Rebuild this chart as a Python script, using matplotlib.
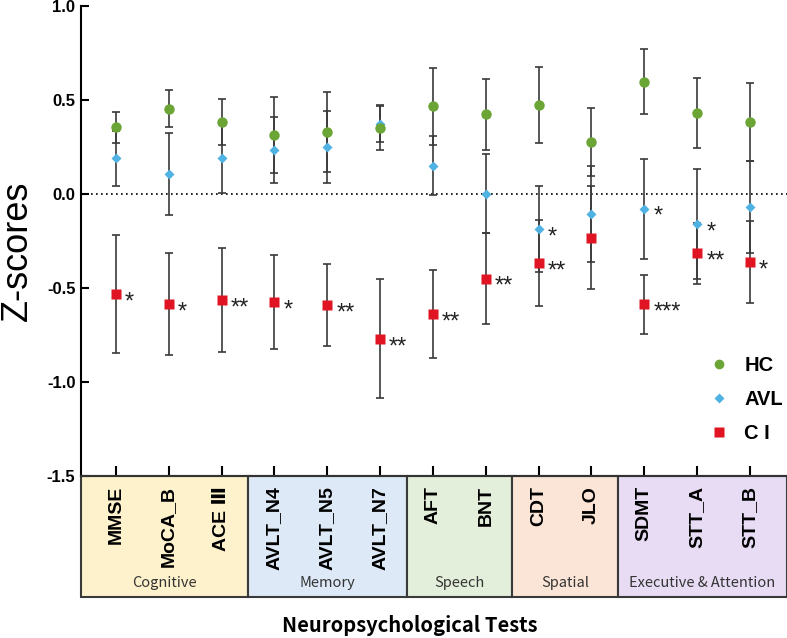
import matplotlib
matplotlib.use("Agg")
import matplotlib.pyplot as plt
from matplotlib.patches import Rectangle
from matplotlib.lines import Line2D

# ---------------- data ----------------
tests = ['MMSE', 'MoCA_B', 'ACE Ⅲ', 'AVLT_N4', 'AVLT_N5', 'AVLT_N7', 'AFT', 'BNT',
         'CDT', 'JLO', 'SDMT', 'STT_A', 'STT_B']
hc_mean = [0.355, 0.454, 0.381, 0.314, 0.331, 0.353, 0.466, 0.424, 0.473, 0.277, 0.597, 0.429, 0.381]
hc_err = [0.083, 0.098, 0.122, 0.204, 0.213, 0.120, 0.206, 0.188, 0.202, 0.181, 0.172, 0.186, 0.207]
avl_mean = [0.190, 0.108, 0.193, 0.236, 0.250, 0.372, 0.151, 0.002, -0.188, -0.106, -0.078, -0.161, -0.069]
avl_err = [0.147, 0.218, 0.190, 0.176, 0.189, 0.095, 0.156, 0.209, 0.229, 0.254, 0.266, 0.293, 0.243]
ci_mean = [-0.532, -0.585, -0.564, -0.574, -0.590, -0.770, -0.638, -0.450, -0.369, -0.232, -0.587, -0.316, -0.362]
ci_err = [0.316, 0.273, 0.277, 0.250, 0.220, 0.317, 0.235, 0.241, 0.229, 0.275, 0.157, 0.161, 0.220]
ci_sig = ['*', '*', '**', '*', '**', '**', '**', '**', '**', '', '***', '**', '*']
avl_sig = ['', '', '', '', '', '', '', '', '*', '', '*', '*', '']
groups = ['Cognitive', 'Memory', 'Speech', 'Spatial', 'Executive & Attention']
group_sizes = [3, 3, 2, 2, 3]
group_colors = ['#FEF2CC', '#DDE9F6', '#E3EFDA', '#FBE5D6', '#E7DCF4']
series_labels = ['HC', 'AVL', 'C I']
yticks = [-1.5, -1.0, -0.5, 0.0, 0.5, 1.0]

# ---------------- style ----------------
FONT = ['Liberation Sans', 'DejaVu Sans']
CJK = ['Noto Sans CJK SC', 'DejaVu Sans']
plt.rcParams['font.family'] = FONT
c_hc, c_avl, c_ci = '#6BA535', '#4FB2E2', '#E01423'
ecol = '#3a3a3a'

fig = plt.figure(figsize=(7.87, 6.38), dpi=100)
ax = fig.add_axes([81 / 787, (638 - 476) / 638, (787 - 81) / 787, 470 / 638])

x = list(range(len(tests)))
xmin, xmax = -0.66, 12.7

ekw = dict(fmt='none', ecolor=ecol, elinewidth=1.2, capsize=3, capthick=1.2, zorder=2)
ax.errorbar(x, hc_mean, yerr=hc_err, **ekw)
ax.errorbar(x, avl_mean, yerr=avl_err, **ekw)
ax.errorbar(x, ci_mean, yerr=ci_err, **ekw)

ax.plot(x, avl_mean, 'D', color=c_avl, ms=5.5, mec='none', zorder=3)
ax.plot(x, hc_mean, 'o', color=c_hc, ms=7.5, mec='none', zorder=4)
ax.plot(x, ci_mean, 's', color=c_ci, ms=7, mec='none', zorder=5)

for means, sigs in ((ci_mean, ci_sig), (avl_mean, avl_sig)):
    for xi, yi, s in zip(x, means, sigs):
        if s:
            ax.annotate(s, (xi, yi), xytext=(6.5, -6), textcoords='offset points',
                        ha='left', va='center', fontsize=17, color='#222222')

ax.axhline(0, color='black', lw=1.2, ls=(0, (1, 2)), zorder=1)

ax.set_xlim(xmin, xmax)
ax.set_ylim(-1.5, 1.0)
ax.set_yticks(yticks)
ax.set_yticklabels([f'{v:.1f}' for v in yticks], fontsize=12, fontweight='bold')
ax.set_xticks(x)
ax.set_xticklabels(tests, rotation=90, fontsize=14, fontweight='bold', va='top')
ax.tick_params(axis='y', direction='in', length=6, width=1.5, pad=4)
ax.tick_params(axis='x', direction='in', length=7, width=1.5, pad=7, top=False)

for sp in ['top', 'right']:
    ax.spines[sp].set_visible(False)
ax.spines['left'].set_linewidth(1.5)
ax.spines['bottom'].set_linewidth(1.5)
ax.spines['bottom'].set_color('#333333')

# group boxes below the axis
trans = ax.get_xaxis_transform()
box_h = (596.7 - 476) / 470
start = xmin
pos = 0
for g, n, col in zip(groups, group_sizes, group_colors):
    end = pos + n - 0.5 if pos + n < len(tests) else xmax
    ax.add_patch(Rectangle((start, -box_h), end - start, box_h, transform=trans,
                           facecolor=col, edgecolor='#3a3a3a', lw=1.5,
                           clip_on=False, zorder=0))
    ax.text((start + end) / 2, -(583 - 476) / 470, g, transform=trans,
            ha='center', va='center', fontsize=10.5, color='#333333', family=CJK)
    start = end
    pos += n

fig.text(410 / 787, 1 - 625 / 638, 'Neuropsychological Tests', ha='center', va='center',
         fontsize=14.5, fontweight='bold', family=CJK)
fig.text(17 / 787, 1 - 251 / 638, 'Z-scores', rotation=90, ha='center', va='center',
         fontsize=26)

handles = [Line2D([], [], ls='none', marker='o', color=c_hc, ms=7, mec='none'),
           Line2D([], [], ls='none', marker='D', color=c_avl, ms=5, mec='none'),
           Line2D([], [], ls='none', marker='s', color=c_ci, ms=7, mec='none')]
leg = ax.legend(handles, series_labels, loc='upper left',
                bbox_to_anchor=(709 / 787, 1 - 356 / 638), bbox_transform=fig.transFigure,
                frameon=False, fontsize=14.5, handlelength=1.0, handletextpad=0.75,
                labelspacing=0.75, borderpad=0, borderaxespad=0)
for t in leg.get_texts():
    t.set_fontweight('bold')

fig.savefig('out.png', dpi=100)
